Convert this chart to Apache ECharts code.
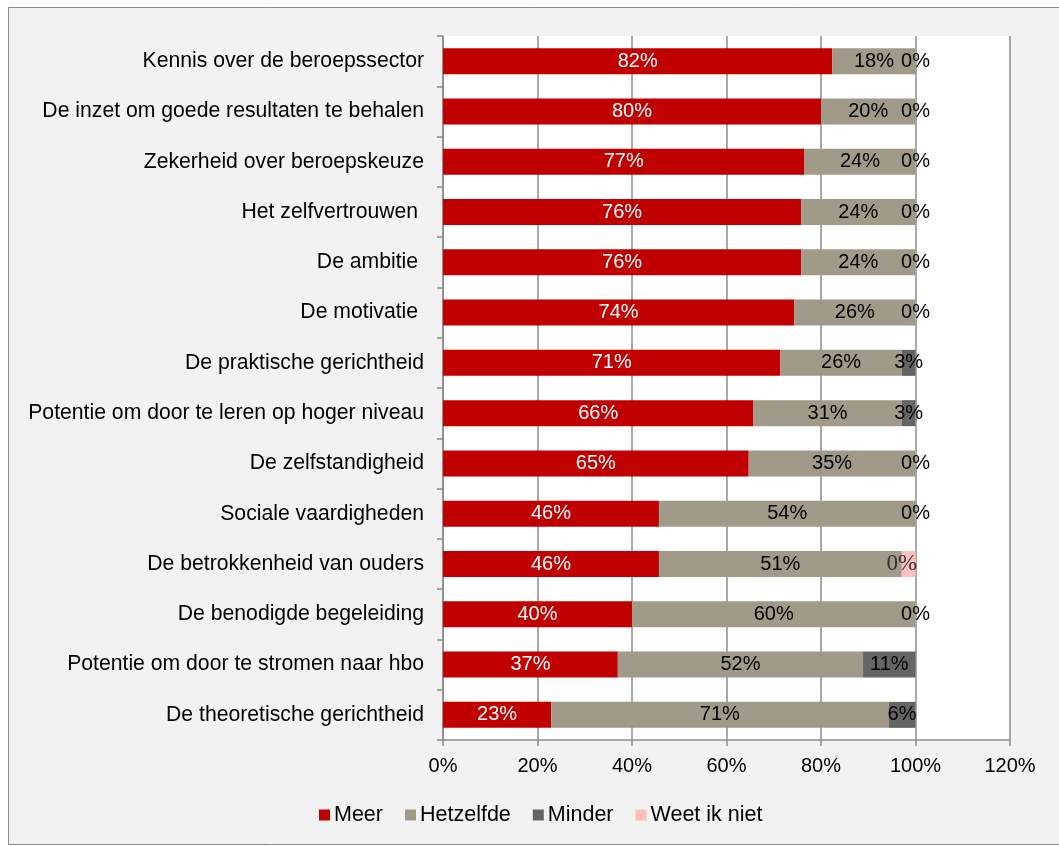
<!DOCTYPE html>
<html>
<head>
<meta charset="utf-8">
<script src="https://cdn.jsdelivr.net/npm/echarts@6/dist/echarts.min.js"></script>
<style>
html,body{margin:0;padding:0;background:#fff;}
#c{width:1059px;height:846px;}
</style>
</head>
<body>
<div id="c"></div>
<script>
var categories = [
  "Kennis over de beroepssector",
  "De inzet om goede resultaten te behalen",
  "Zekerheid over beroepskeuze",
  "Het zelfvertrouwen ",
  "De ambitie ",
  "De motivatie ",
  "De praktische gerichtheid",
  "Potentie om door te leren op hoger niveau",
  "De zelfstandigheid",
  "Sociale vaardigheden",
  "De betrokkenheid van ouders",
  "De benodigde begeleiding",
  "Potentie om door te stromen naar hbo",
  "De theoretische gerichtheid"
];
var meer      = [82.4, 80.0, 76.5, 75.8, 75.8, 74.3, 71.4, 65.7, 64.7, 45.7, 45.7, 40.0, 37.0, 22.9];
var hetzelfde = [17.6, 20.0, 23.5, 24.2, 24.2, 25.7, 25.7, 31.4, 35.3, 54.3, 51.4, 60.0, 51.9, 71.4];
var minder    = [0, 0, 0, 0, 0, 0, 2.9, 2.9, 0, 0, 0, 0, 11.1, 5.7];
var weetIkNiet= [0, 0, 0, 0, 0, 0, 0, 0, 0, 0, 2.9, 0, 0, 0];
var xTicks = [0, 20, 40, 60, 80, 100, 120];

var font = "Liberation Sans, Arial, sans-serif";
function fmt(p){ return Math.round(p.value) + '%'; }

var minderData = minder.map(function(v, i){
  if (weetIkNiet[i] > 0) {
    return {value: v, label: {fontFamily: "Liberation Serif, Times New Roman, serif", color: '#333', fontSize: 23}};
  }
  return v;
});

var chart = echarts.init(document.getElementById('c'), null, {renderer: 'canvas'});
chart.setOption({
  animation: false,
  backgroundColor: '#ffffff',
  graphic: [{
    type: 'rect',
    shape: {x: 8.5, y: 7.5, width: 1060, height: 837},
    style: {fill: '#F2F2F2', stroke: '#8C8C8C', lineWidth: 1},
    z: -10
  }],
  grid: {
    left: 443, right: 49, top: 36, bottom: 106,
    show: true, backgroundColor: '#ffffff', borderWidth: 0
  },
  legend: {
    top: 799,
    left: 314,
    itemWidth: 11, itemHeight: 11, itemGap: 22,
    icon: 'rect',
    textStyle: {fontFamily: font, fontSize: 21.5, color: '#000', padding: [0,0,0,-1]},
    data: ['Meer', 'Hetzelfde', 'Minder', 'Weet ik niet']
  },
  xAxis: {
    type: 'value',
    min: 0, max: 120, interval: 20,
    axisLine: {show: true, lineStyle: {color: '#8C8C8C', width: 1.5}},
    axisTick: {show: true, length: 6, lineStyle: {color: '#8C8C8C', width: 1.5}},
    splitLine: {show: true, lineStyle: {color: '#8C8C8C', width: 1.5}},
    axisLabel: {
      fontFamily: font, fontSize: 20, color: '#000', margin: 16,
      formatter: function(v){ return v + '%'; }
    }
  },
  yAxis: {
    type: 'category',
    inverse: true,
    data: categories,
    axisLine: {show: true, lineStyle: {color: '#8C8C8C', width: 1.5}},
    axisTick: {show: true, length: 6, lineStyle: {color: '#8C8C8C', width: 1.5}},
    axisLabel: {fontFamily: font, fontSize: 21.2, color: '#000', margin: 19}
  },
  series: [
    {
      name: 'Meer', type: 'bar', stack: 'a', data: meer, barWidth: 26,
      itemStyle: {color: '#C00000'},
      label: {show: true, position: 'inside', formatter: fmt, color: '#fff', fontFamily: font, fontSize: 20}
    },
    {
      name: 'Hetzelfde', type: 'bar', stack: 'a', data: hetzelfde, barWidth: 26,
      itemStyle: {color: '#A29A88'},
      label: {show: true, position: 'inside', formatter: fmt, color: '#000', fontFamily: font, fontSize: 20}
    },
    {
      name: 'Minder', type: 'bar', stack: 'a', data: minderData, barWidth: 26,
      itemStyle: {color: '#646464'},
      label: {show: true, position: 'inside', formatter: fmt, color: '#000', fontFamily: font, fontSize: 20}
    },
    {
      name: 'Weet ik niet', type: 'bar', stack: 'a', data: weetIkNiet, barWidth: 26,
      itemStyle: {color: '#FFBFBF'},
      label: {show: false}
    }
  ]
});
</script>
</body>
</html>
